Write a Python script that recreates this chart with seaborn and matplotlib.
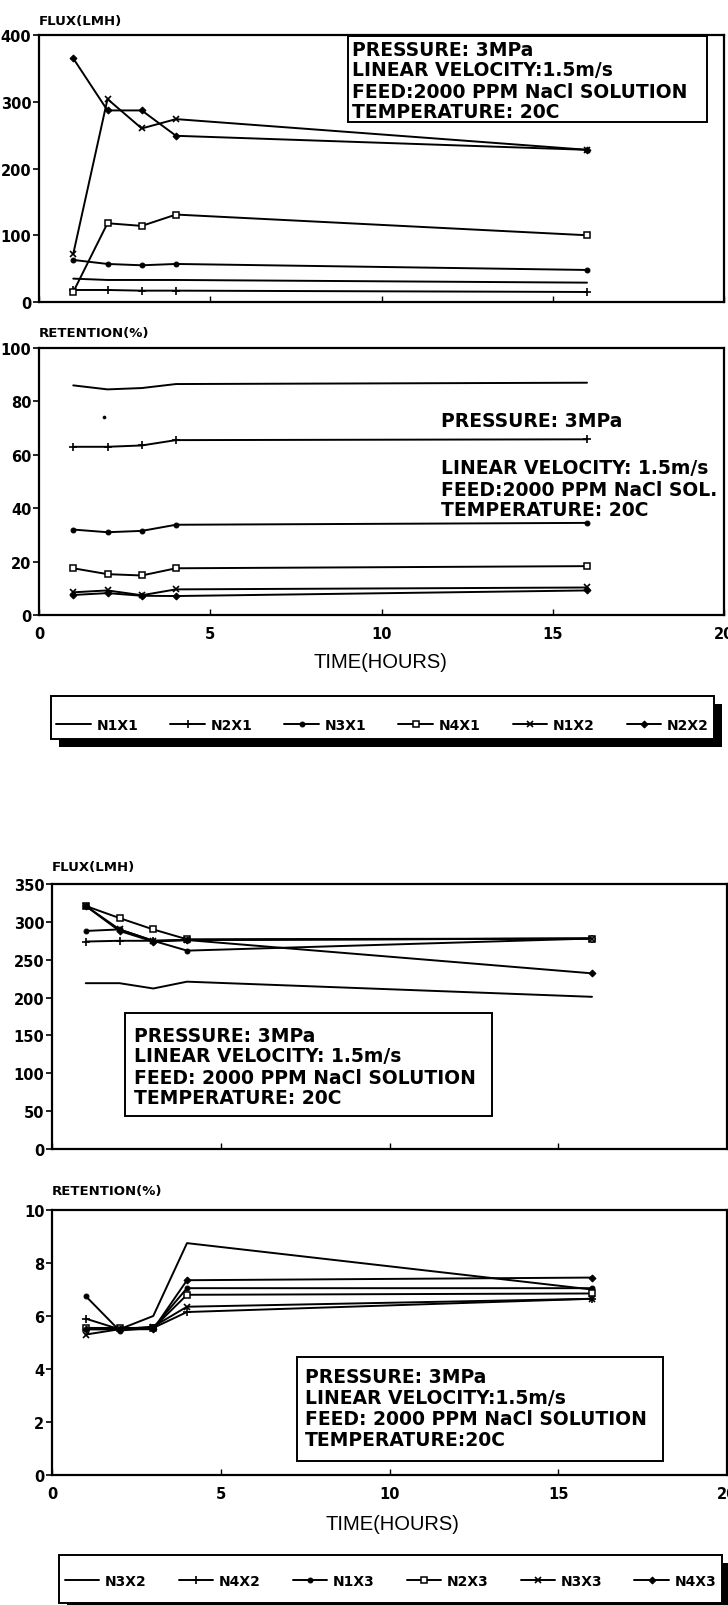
import numpy as np
import pandas as pd
import matplotlib
matplotlib.use("Agg")
import matplotlib.pyplot as plt
import seaborn as sns
from matplotlib.patches import Rectangle
from matplotlib.font_manager import FontProperties

# ---------------- data ----------------
time_h = [1, 2, 3, 4, 16]

set1_names = ["N1X1", "N2X1", "N3X1", "N4X1", "N1X2", "N2X2"]
set2_names = ["N3X2", "N4X2", "N1X3", "N2X3", "N3X3", "N4X3"]

# flux (LMH), first membrane set
flux_N1X1 = [35, 33, 33, 33, 29]
flux_N2X1 = [18, 18, 17, 17, 15]
flux_N3X1 = [63, 57, 55, 57, 48]
flux_N4X1 = [15, 118, 114, 131, 100]
flux_N1X2 = [72, 304, 260, 274, 228]
flux_N2X2 = [365, 287, 287, 249, 228]

# retention (%), first membrane set
ret_N1X1 = [86, 84.5, 85, 86.5, 87]
ret_N2X1 = [63, 63, 63.5, 65.5, 65.8]
ret_N3X1 = [32, 31, 31.5, 33.8, 34.5]
ret_N4X1 = [17.5, 15.3, 14.8, 17.5, 18.3]
ret_N1X2 = [8.5, 9.2, 7.4, 9.6, 10.3]
ret_N2X2 = [7.5, 8.2, 7.2, 7.1, 9.2]
stray_x = [1.9]
stray_y = [74]

# flux (LMH), second membrane set
flux_N3X2 = [219, 219, 212, 221, 201]
flux_N4X2 = [274, 275, 275, 276, 278]
flux_N1X3 = [288, 290, 275, 262, 278]
flux_N2X3 = [321, 305, 290, 277, 278]
flux_N3X3 = [321, 290, 275, 276, 278]
flux_N4X3 = [321, 288, 274, 276, 232]

# retention (%), second membrane set
ret_N3X2 = [5.5, 5.5, 6.0, 8.75, 7.0]
ret_N4X2 = [5.9, 5.5, 5.55, 6.15, 6.65]
ret_N1X3 = [6.75, 5.45, 5.55, 7.05, 7.05]
ret_N2X3 = [5.55, 5.55, 5.55, 6.8, 6.85]
ret_N3X3 = [5.3, 5.5, 5.6, 6.35, 6.65]
ret_N4X3 = [5.5, 5.5, 5.5, 7.35, 7.45]

flux1_ticks = [0, 100, 200, 300, 400]
ret1_ticks = [0, 20, 40, 60, 80, 100]
flux2_ticks = [0, 50, 100, 150, 200, 250, 300, 350]
ret2_ticks = [0, 2, 4, 6, 8, 10]
time_ticks = [0, 5, 10, 15, 20]

note_a = ["PRESSURE: 3MPa", "LINEAR VELOCITY:1.5m/s", "FEED:2000 PPM NaCl SOLUTION", "TEMPERATURE: 20C"]
note_b = ["PRESSURE: 3MPa", "LINEAR VELOCITY: 1.5m/s", "FEED:2000 PPM NaCl SOL.", "TEMPERATURE: 20C"]
note_c = ["PRESSURE: 3MPa", "LINEAR VELOCITY: 1.5m/s", "FEED: 2000 PPM NaCl SOLUTION", "TEMPERATURE: 20C"]
note_d = ["PRESSURE: 3MPa", "LINEAR VELOCITY:1.5m/s", "FEED: 2000 PPM NaCl SOLUTION", "TEMPERATURE:20C"]


def long_table(names, flux_lists, ret_lists):
    rows = []
    for n, fl, rl in zip(names, flux_lists, ret_lists):
        for t, f, r in zip(time_h, fl, rl):
            rows.append({"series": n, "time": t, "flux": f, "retention": r})
    return pd.DataFrame(rows)


df1 = long_table(set1_names,
                 [flux_N1X1, flux_N2X1, flux_N3X1, flux_N4X1, flux_N1X2, flux_N2X2],
                 [ret_N1X1, ret_N2X1, ret_N3X1, ret_N4X1, ret_N1X2, ret_N2X2])
df2 = long_table(set2_names,
                 [flux_N3X2, flux_N4X2, flux_N1X3, flux_N2X3, flux_N3X3, flux_N4X3],
                 [ret_N3X2, ret_N4X2, ret_N1X3, ret_N2X3, ret_N3X3, ret_N4X3])

# ---------------- style ----------------
sns.set_theme(style="ticks")
plt.rcParams["font.family"] = ["DejaVu Sans"]
plt.rcParams["text.color"] = "black"
plt.rcParams["axes.labelcolor"] = "black"
plt.rcParams["xtick.color"] = "black"
plt.rcParams["ytick.color"] = "black"
plt.rcParams["axes.edgecolor"] = "black"

W, H = 728, 1606
BOLD = dict(family="DejaVu Sans", weight="bold")


def rect(l, t, r, b):
    return [l / W, 1 - b / H, (r - l) / W, (b - t) / H]


def fx(px):
    return px / W


def fy(py):
    return 1 - py / H


marker_styles = [
    dict(marker=None),
    dict(marker="+", markersize=6, markeredgewidth=1.2),
    dict(marker="o", markersize=3.5, markerfacecolor="black"),
    dict(marker="s", markersize=4, markerfacecolor="white", markeredgewidth=1.1),
    dict(marker="x", markersize=4.5, markeredgewidth=1.2),
    dict(marker="D", markersize=3.5, markerfacecolor="black"),
]

fig = plt.figure(figsize=(W / 100, H / 100), dpi=100)
fig.patch.set_facecolor("white")

axA = fig.add_axes(rect(39, 36, 724, 303))
axB = fig.add_axes(rect(39, 349, 724, 616))
axC = fig.add_axes(rect(52, 885, 727, 1150))
axD = fig.add_axes(rect(52, 1211, 727, 1476))


def draw(ax, df, ycol, names):
    for name, st in zip(names, marker_styles):
        sub = df[df["series"] == name]
        sns.lineplot(data=sub, x="time", y=ycol, ax=ax, color="black", lw=1.4,
                     markeredgecolor="black", label=name, legend=False,
                     sort=False, errorbar=None, **st)
    ax.set_xlabel("")
    ax.set_ylabel("")


draw(axA, df1, "flux", set1_names)
draw(axB, df1, "retention", set1_names)
sns.scatterplot(x=stray_x, y=stray_y, ax=axB, color="black", s=7, linewidth=0, legend=False)
if axB.get_legend() is not None:
    axB.get_legend().remove()
draw(axC, df2, "flux", set2_names)
draw(axD, df2, "retention", set2_names)


def style_axes(ax, ymax, yticks, show_x):
    ax.set_xlim(0, 20)
    ax.set_ylim(0, ymax)
    ax.set_xticks(time_ticks)
    ax.set_yticks(yticks)
    for sp in ax.spines.values():
        sp.set_visible(True)
        sp.set_linewidth(1.6)
        sp.set_color("black")
    ax.tick_params(axis="x", direction="in", length=4, width=1.0, pad=8,
                   labelbottom=show_x, bottom=True, top=False, colors="black")
    ax.tick_params(axis="y", direction="out", length=4, width=1.2, pad=1.5, left=True,
                   colors="black")
    for lab in ax.get_xticklabels() + ax.get_yticklabels():
        lab.set_fontproperties(FontProperties(size=10.5, **BOLD))
        lab.set_color("black")
    ax.set_facecolor("white")
    ax.grid(False)


style_axes(axA, 400, flux1_ticks, False)
style_axes(axB, 100, ret1_ticks, True)
style_axes(axC, 350, flux2_ticks, False)
style_axes(axD, 10, ret2_ticks, True)

# axis titles
fig.text(fx(39), fy(21), "FLUX(LMH)", ha="left", va="center", fontsize=9.5, color="black", **BOLD)
fig.text(fx(39), fy(334), "RETENTION(%)", ha="left", va="center", fontsize=9.5, color="black", **BOLD)
fig.text(fx(52), fy(867), "FLUX(LMH)", ha="left", va="center", fontsize=9.5, color="black", **BOLD)
fig.text(fx(52), fy(1192), "RETENTION(%)", ha="left", va="center", fontsize=9.5, color="black", **BOLD)
fig.text(fx(380), fy(663), "TIME(HOURS)", ha="center", va="center", fontsize=14.5,
         family="Liberation Sans", color="black")
fig.text(fx(392), fy(1525), "TIME(HOURS)", ha="center", va="center", fontsize=14.5,
         family="Liberation Sans", color="black")


def note(lines, x_left, ys, box=None):
    if box is not None:
        l, t, r, b = box
        fig.patches.append(Rectangle((fx(l), fy(b)), (r - l) / W, (b - t) / H,
                                     transform=fig.transFigure, facecolor="none",
                                     edgecolor="black", lw=1.4, zorder=3))
    for s, y in zip(lines, ys):
        fig.text(fx(x_left), fy(y), s, ha="left", va="center", fontsize=13.5, zorder=4,
                 color="black", **BOLD)


note(note_a, 352, [50, 71, 92, 113], box=(348, 37, 707, 123))
note(note_b, 441, [422, 469, 490, 511])
note(note_c, 134, [1036, 1057, 1078, 1099], box=(125, 1014, 492, 1117))
note(note_d, 305, [1378, 1399, 1420, 1441], box=(297, 1358, 663, 1462))


def legend_box(ax, l, t, r, b, cy):
    fig.patches.append(Rectangle((fx(l + 8), fy(b + 8)), (r - l) / W, (b - t) / H,
                                 transform=fig.transFigure, facecolor="black",
                                 edgecolor="black", lw=0, zorder=1))
    fig.patches.append(Rectangle((fx(l), fy(b)), (r - l) / W, (b - t) / H,
                                 transform=fig.transFigure, facecolor="white",
                                 edgecolor="black", lw=1.4, zorder=2))
    handles, labels = ax.get_legend_handles_labels()
    leg = fig.legend(handles, labels, loc="center", bbox_to_anchor=(fx((l + r) / 2), fy(cy)),
                     ncol=6, frameon=False, handlelength=2.5, handletextpad=0.4,
                     columnspacing=2.3, prop=FontProperties(size=10, **BOLD))
    for txt in leg.get_texts():
        txt.set_color("black")
    leg.set_zorder(5)


legend_box(axA, 51, 697, 714, 740, 726)
legend_box(axC, 59, 1556, 722, 1604, 1582)

fig.savefig("out.png", dpi=100, facecolor="white")
